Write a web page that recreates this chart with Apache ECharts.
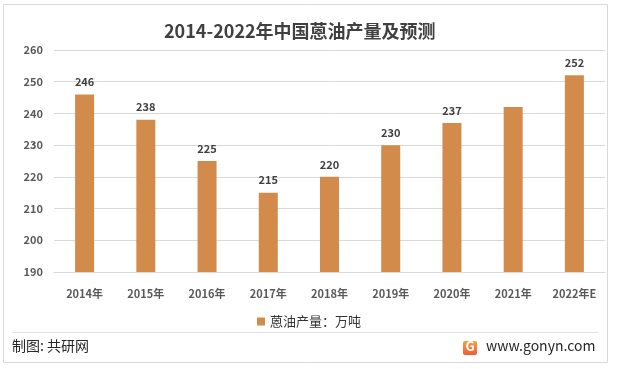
<!DOCTYPE html>
<html><head><meta charset="utf-8">
<script src="https://cdn.jsdelivr.net/npm/echarts@6/dist/echarts.min.js"></script>
<style>html,body{margin:0;padding:0;background:#fff}#c{width:618px;height:369px}</style>
</head><body><div id="c"></div>
<script>
const categories = ['2014年','2015年','2016年','2017年','2018年','2019年','2020年','2021年','2022年E'];
const values = [246, 238, 225, 215, 220, 230, 237, 242, 252];
const showLabel = [true, true, true, true, true, true, true, false, true];
const yTicks = [190, 200, 210, 220, 230, 240, 250, 260];

const chart = echarts.init(document.getElementById('c'));
const font = '"Noto Sans CJK SC", "Microsoft YaHei", sans-serif';
chart.setOption({
  animation: false,
  graphic: [
    {type:'rect', shape:{x:3.5,y:4.5,width:604,height:358}, style:{fill:'none', stroke:'#d9d9d9', lineWidth:1}},
    {type:'line', shape:{x1:12,y1:332.5,x2:598,y2:332.5}, style:{stroke:'#e3e3e3', lineWidth:1}},
    {type:'text', left:12, top:339, style:{text:'制图: 共研网', font:'14px '+font, fill:'#262626'}},
    {type:'text', left:486, top:339, style:{text:'www.gonyn.com', font:'14px '+font, fill:'#262626'}},
    {type:'rect', shape:{x:463,y:341,width:14,height:14,r:2},
      style:{fill:new echarts.graphic.LinearGradient(0,0,0,1,[{offset:0,color:'#f9a13a'},{offset:1,color:'#ef5a3a'}])}},
    {type:'text', x:465.5, y:340, style:{text:'G', font:'bold 13px '+font, fill:'#fff'}}
  ],
  title: {
    text: '2014-2022年中国蒽油产量及预测',
    left: 159, top: 17,
    textStyle: {fontFamily: font, fontSize: 18, fontWeight: 'bold', color: '#404040'}
  },
  legend: {
    top: 310, left: 'center', itemWidth: 8, itemHeight: 8, itemGap: 3,
    icon: 'rect',
    textStyle: {fontFamily: font, fontSize: 13, color: '#333333'},
    data: ['蒽油产量：万吨']
  },
  grid: {left: 54, right: 13, top: 50, bottom: 97, containLabel: false},
  xAxis: {
    type: 'category', data: categories,
    axisLine: {lineStyle: {color: '#d9d9d9'}},
    axisTick: {show: false},
    axisLabel: {fontFamily: font, fontSize: 11, color: '#595959', fontWeight: 'bold', margin: 16}
  },
  yAxis: {
    type: 'value', min: yTicks[0], max: yTicks[yTicks.length-1], interval: 10,
    axisLine: {show: false}, axisTick: {show: false},
    splitLine: {lineStyle: {color: '#d9d9d9'}},
    axisLabel: {fontFamily: font, fontSize: 11, color: '#595959', fontWeight: 'bold', margin: 11}
  },
  series: [{
    name: '蒽油产量：万吨', type: 'bar', barWidth: 19,
    itemStyle: {color: '#D38B4C'},
    data: values.map((v, i) => ({
      value: v,
      label: {show: showLabel[i], position: 'top', distance: 7, fontFamily: font, fontSize: 11, fontWeight: 'bold', color: '#404040'}
    }))
  }]
});
</script></body></html>
